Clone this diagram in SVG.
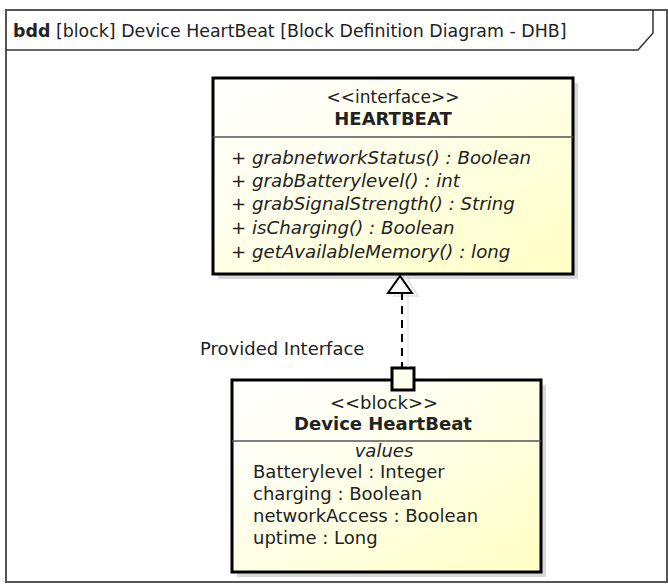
<svg xmlns="http://www.w3.org/2000/svg" width="668" height="584" viewBox="0 0 668 584">
<defs>
<linearGradient id="fill" x1="0" y1="0" x2="1" y2="1">
<stop offset="0" stop-color="#ffffff"/>
<stop offset="0.35" stop-color="#fffff0"/>
<stop offset="1" stop-color="#ffffc4"/>
</linearGradient>
<style>
text{font-family:"DejaVu Sans","Liberation Sans",sans-serif;fill:#222}
.box{fill:url(#fill);stroke:#000;stroke-width:3}
.shadow{fill:#d8d8d8;stroke:none}
.sep{stroke:#555;stroke-width:1.5}
.c{text-anchor:middle;font-size:18px}
.b{font-weight:bold}
.op{font-size:18.2px;font-style:italic}
.at{font-size:18px}
</style>
</defs>
<rect x="0" y="0" width="668" height="584" fill="#fff"/>
<g id="frame">
<rect x="6" y="10" width="661" height="572" fill="none" stroke="#555" stroke-width="2"/>
<path d="M6,50 L638,50 L653,33 L653,10" fill="none" stroke="#333" stroke-width="1.5"/>
<text x="13" y="37" font-size="17.4"><tspan font-weight="bold">bdd</tspan> [block] Device HeartBeat [Block Definition Diagram - DHB]</text>
</g>
<g id="heartbeat">
<rect class="shadow" x="218" y="83" width="360" height="196"/>
<rect class="box" x="213" y="78" width="360" height="196"/>
<line class="sep" x1="213" y1="137" x2="573" y2="137"/>
<text class="c" x="393" y="103" style="font-size:17px">&lt;&lt;interface&gt;&gt;</text>
<text class="c b" x="393" y="125">HEARTBEAT</text>
<text class="op" x="231" y="164">+ grabnetworkStatus() : Boolean</text>
<text class="op" x="231" y="187">+ grabBatterylevel() : int</text>
<text class="op" x="231" y="210">+ grabSignalStrength() : String</text>
<text class="op" x="231" y="234">+ isCharging() : Boolean</text>
<text class="op" x="231" y="258">+ getAvailableMemory() : long</text>
</g>
<g id="device">
<rect class="shadow" x="237" y="385" width="309" height="192"/>
<rect class="box" x="232" y="380" width="309" height="192"/>
<line class="sep" x1="232" y1="441" x2="541" y2="441"/>
<text class="c" x="384" y="409">&lt;&lt;block&gt;&gt;</text>
<text class="c b" x="383" y="430">Device HeartBeat</text>
<text class="c" x="384" y="457" font-style="italic">values</text>
<text class="at" x="253" y="478">Batterylevel : Integer</text>
<text class="at" x="253" y="500">charging : Boolean</text>
<text class="at" x="253" y="522">networkAccess : Boolean</text>
<text class="at" x="253" y="544">uptime : Long</text>
<rect id="port" x="392" y="368" width="22" height="22" fill="#fffff0" stroke="#000" stroke-width="3"/>
</g>
<g id="connectors">
<line x1="408" y1="292" x2="408" y2="367" stroke="#ddd" stroke-width="1"/>
<path d="M406,277 L418,296 L394,296 Z" fill="none" stroke="#e4e4e4" stroke-width="1.5"/>
<line x1="402" y1="292" x2="402" y2="367" stroke="#000" stroke-width="2" stroke-dasharray="8,6"/>
<path d="M400,276 L412,293 L388,293 Z" fill="#fff" stroke="#000" stroke-width="2"/>
<text x="200" y="355" font-size="18">Provided Interface</text>
</g>
</svg>
